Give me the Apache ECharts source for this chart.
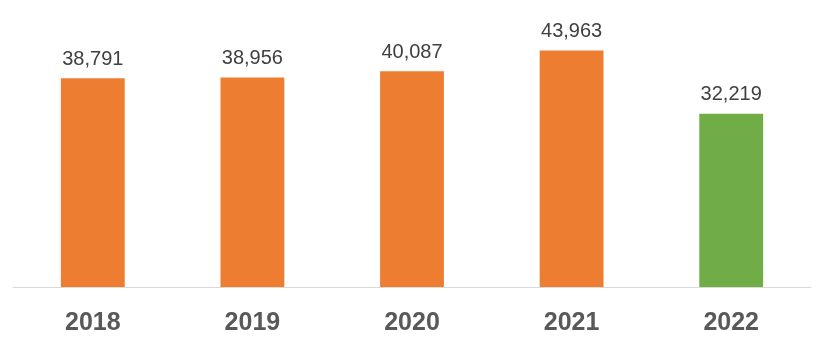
<!DOCTYPE html>
<html>
<head>
<meta charset="utf-8">
<script src="https://cdn.jsdelivr.net/npm/echarts@6/dist/echarts.min.js"></script>
<style>html,body{margin:0;padding:0;background:#fff;}#c{width:820px;height:346px;}</style>
</head>
<body>
<div id="c"></div>
<script>
const categories = ['2018', '2019', '2020', '2021', '2022'];
const values = [38791, 38956, 40087, 43963, 32219];
const barColors = ['#ED7D31', '#ED7D31', '#ED7D31', '#ED7D31', '#70AD47'];

const chart = echarts.init(document.getElementById('c'));
chart.setOption({
  animation: false,
  grid: { left: 13, right: 9, top: 18, bottom: 59, containLabel: false },
  xAxis: {
    type: 'category',
    data: categories,
    axisLine: { lineStyle: { color: '#D9D9D9', width: 1 } },
    axisTick: { show: false },
    axisLabel: {
      color: '#595959', fontSize: 25, fontWeight: 'bold',
      fontFamily: 'Liberation Sans, Arial, sans-serif', margin: 24
    }
  },
  yAxis: {
    type: 'value', min: 0, max: 50000,
    show: false, splitLine: { show: false }
  },
  series: [{
    type: 'bar',
    barWidth: '40%',
    data: values.map((v, i) => ({ value: v, itemStyle: { color: barColors[i] } })),
    label: {
      show: true, position: 'top', distance: 9,
      color: '#404040', fontSize: 20,
      fontFamily: 'Liberation Sans, Arial, sans-serif',
      formatter: p => p.value.toLocaleString('en-US')
    }
  }]
});
</script>
</body>
</html>
